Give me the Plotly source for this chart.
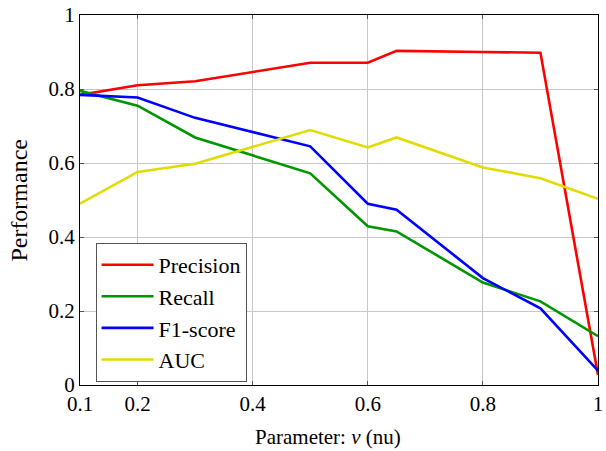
import plotly.graph_objects as go

nu = [0.1, 0.2, 0.3, 0.5, 0.6, 0.65, 0.8, 0.9, 1.0]
precision = [0.784, 0.810, 0.821, 0.871, 0.871, 0.903, 0.900, 0.898, 0.027]
recall = [0.795, 0.755, 0.669, 0.572, 0.429, 0.415, 0.277, 0.226, 0.132]
f1 = [0.784, 0.777, 0.722, 0.645, 0.490, 0.474, 0.289, 0.207, 0.039]
auc = [0.490, 0.576, 0.598, 0.689, 0.642, 0.669, 0.588, 0.559, 0.503]

x_ticks = [0.1, 0.2, 0.4, 0.6, 0.8, 1.0]
x_tick_labels = ["0.1", "0.2", "0.4", "0.6", "0.8", "1"]
y_ticks = [0, 0.2, 0.4, 0.6, 0.8, 1.0]
y_tick_labels = ["0", "0.2", "0.4", "0.6", "0.8", "1"]

series = [
    ("Precision", precision, "#ff0000"),
    ("Recall", recall, "#009600"),
    ("F1-score", f1, "#0000ff"),
    ("AUC", auc, "#e0dc00"),
]

fig = go.Figure()
for name, vals, col in series:
    fig.add_trace(go.Scatter(x=nu, y=vals, mode="lines", name=name,
                             line=dict(color=col, width=2.6), cliponaxis=False))

font = "'Liberation Serif', 'Times New Roman', 'DejaVu Serif', serif"
fig.update_layout(
    width=606, height=451,
    margin=dict(l=80, r=3, t=14, b=66),
    plot_bgcolor="white", paper_bgcolor="white",
    font=dict(family=font, size=21, color="black"),
    showlegend=True,
    legend=dict(x=0.03, y=0.384, xanchor="left", yanchor="top",
                bgcolor="white", bordercolor="#555555", borderwidth=1,
                font=dict(family=font, size=22),
                tracegroupgap=0, itemwidth=52),
    xaxis=dict(range=[0.1, 1.0], tickvals=x_ticks, ticktext=x_tick_labels,
               showgrid=True, gridcolor="#c8c8c8", gridwidth=1,
               showline=True, linecolor="black", linewidth=1, mirror="allticks",
               ticks="inside", ticklen=4, tickcolor="#555555",
               zeroline=False, ticklabeloverflow="allow",
               tickfont=dict(family=font, size=21)),
    yaxis=dict(range=[0, 1.0], tickvals=y_ticks, ticktext=y_tick_labels,
               showgrid=True, gridcolor="#c8c8c8", gridwidth=1,
               showline=True, linecolor="black", linewidth=1, mirror="allticks",
               ticks="inside", ticklen=4, tickcolor="#555555",
               zeroline=False,
               tickfont=dict(family=font, size=21)),
    annotations=[
        dict(text="Parameter: <i>ν</i> (nu)", xref="paper", yref="paper",
             x=0.478, y=-0.140, xanchor="center", yanchor="middle",
             showarrow=False, font=dict(family=font, size=21)),
        dict(text="Performance", xref="paper", yref="paper",
             x=-0.1185, y=0.5, xanchor="center", yanchor="middle", textangle=-90,
             showarrow=False, font=dict(family=font, size=24)),
    ],
)

fig.write_html("out.html", config={"displayModeBar": False},
               post_script="document.body.style.margin='0';document.body.style.overflow='hidden';")
